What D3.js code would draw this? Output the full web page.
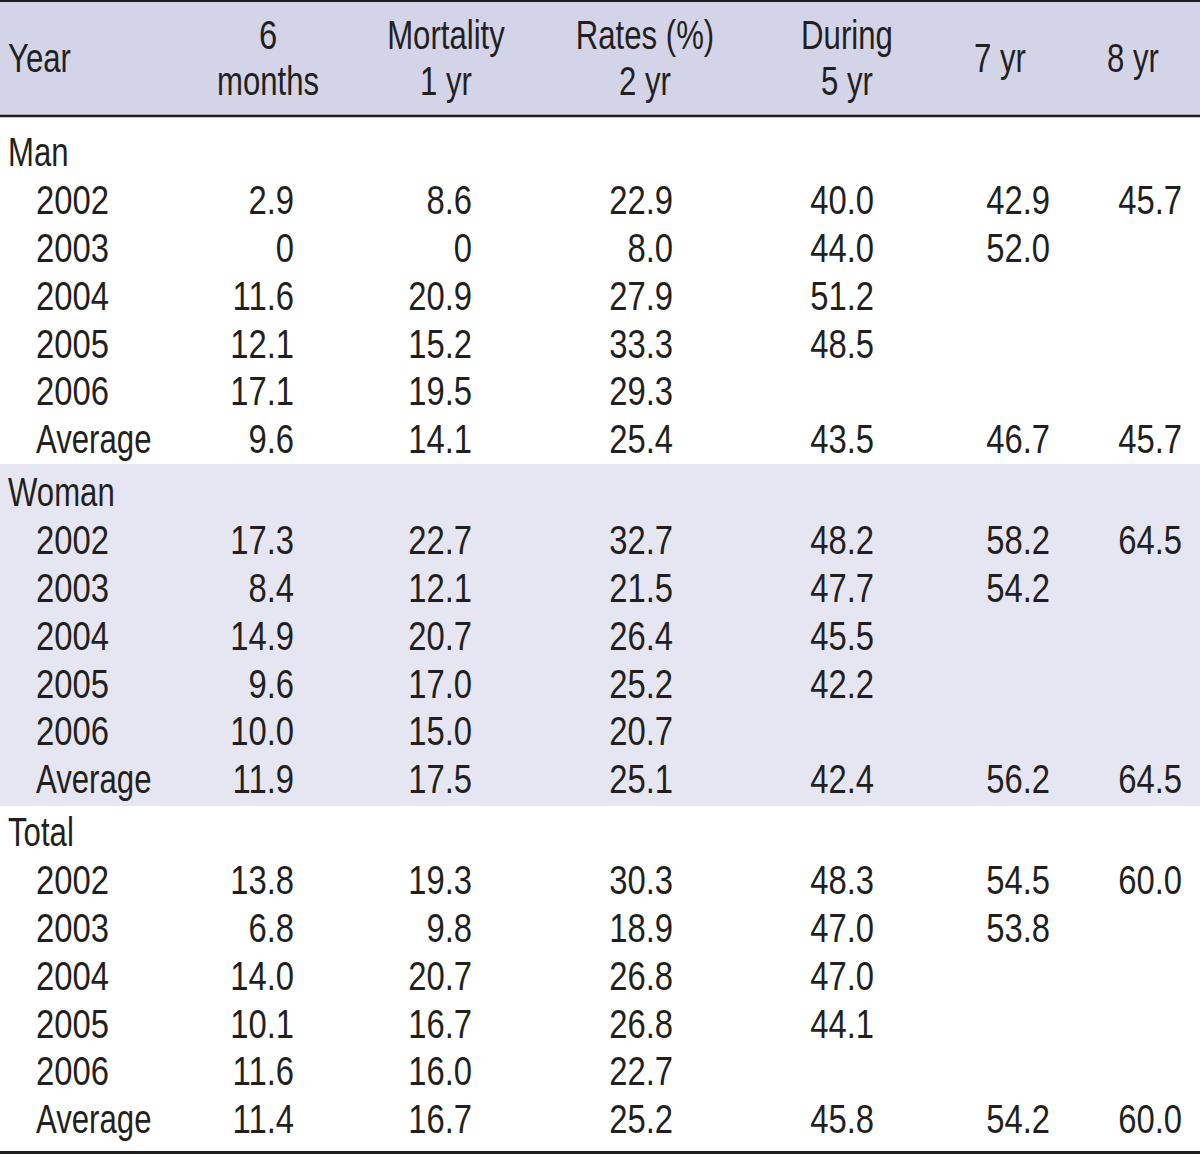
<!DOCTYPE html>
<html><head><meta charset="utf-8">
<script src="https://cdn.jsdelivr.net/npm/d3@7"></script>
<style>html,body{margin:0;padding:0;background:#fff;}</style>
</head><body>
<script>
const headerLine1 = ["", "6", "Mortality", "Rates (%)", "During", "", ""];
const headerLine2 = ["", "months", "1 yr", "2 yr", "5 yr", "", ""];
const headerSingle = ["Year", "", "", "", "", "7 yr", "8 yr"];
const groups = ["Man", "Woman", "Total"];
const rowLabels = ["2002", "2003", "2004", "2005", "2006", "Average"];
const manValues = [
  ["2.9","8.6","22.9","40.0","42.9","45.7"],
  ["0","0","8.0","44.0","52.0",""],
  ["11.6","20.9","27.9","51.2","",""],
  ["12.1","15.2","33.3","48.5","",""],
  ["17.1","19.5","29.3","","",""],
  ["9.6","14.1","25.4","43.5","46.7","45.7"]
];
const womanValues = [
  ["17.3","22.7","32.7","48.2","58.2","64.5"],
  ["8.4","12.1","21.5","47.7","54.2",""],
  ["14.9","20.7","26.4","45.5","",""],
  ["9.6","17.0","25.2","42.2","",""],
  ["10.0","15.0","20.7","","",""],
  ["11.9","17.5","25.1","42.4","56.2","64.5"]
];
const totalValues = [
  ["13.8","19.3","30.3","48.3","54.5","60.0"],
  ["6.8","9.8","18.9","47.0","53.8",""],
  ["14.0","20.7","26.8","47.0","",""],
  ["10.1","16.7","26.8","44.1","",""],
  ["11.6","16.0","22.7","","",""],
  ["11.4","16.7","25.2","45.8","54.2","60.0"]
];
const groupValues = [manValues, womanValues, totalValues];

const W = 1200, H = 1155;
const FONT = "'Liberation Sans',Arial,sans-serif";
const FS = 41;
const ink = "#231f20";

const svg = d3.select("body").append("svg").attr("width", W).attr("height", H)
  .style("font-family", FONT).style("font-size", FS + "px");

const colRight = [null, 294, 472, 673, 874, 1050, 1182];
const colCenter = [null, 268, 446, 645, 847, 1000, 1133];

const headerTop = 0, headerBottom = 116;
const sectionTops = [116, 464, 806];
const sectionBottoms = [464, 806, 1152];
const firstCenters = [152, 492, 832];
const pitch = 47.8;

svg.append("rect").attr("x", 0).attr("y", headerTop).attr("width", W).attr("height", headerBottom - headerTop).attr("fill", "#d4d4e8");
svg.append("rect").attr("x", 0).attr("y", sectionTops[1]).attr("width", W).attr("height", sectionBottoms[1] - sectionTops[1]).attr("fill", "#e6e6f2");

svg.append("line").attr("x1", 0).attr("x2", W).attr("y1", 1).attr("y2", 1).attr("stroke", ink).attr("stroke-width", 2);
svg.append("line").attr("x1", 0).attr("x2", W).attr("y1", headerBottom).attr("y2", headerBottom).attr("stroke", ink).attr("stroke-width", 2.5);
svg.append("line").attr("x1", 0).attr("x2", W).attr("y1", 1152.5).attr("y2", 1152.5).attr("stroke", ink).attr("stroke-width", 3);

const txt = (x, y, s, anchor) => {
  const sx = /^[0-9.]+$/.test(s) ? 0.8 : 0.76;
  return svg.append("text").attr("x", 0).attr("y", 0)
    .attr("transform", `translate(${x},${y}) scale(${sx},1)`)
    .attr("dominant-baseline", "central").attr("text-anchor", anchor).attr("fill", ink).text(s);
};

headerSingle.forEach((s, i) => {
  if (!s) return;
  if (i === 0) txt(8, 58, s, "start");
  else txt(colCenter[i], 58, s, "middle");
});
headerLine1.forEach((s, i) => { if (s) txt(colCenter[i], 35, s, "middle"); });
headerLine2.forEach((s, i) => { if (s) txt(colCenter[i], 81, s, "middle"); });

groups.forEach((g, gi) => {
  const y = d3.scaleLinear().domain([0, 1]).range([firstCenters[gi], firstCenters[gi] + pitch]);
  txt(8, y(0), g, "start");
  rowLabels.forEach((r, ri) => {
    txt(36, y(ri + 1), r, "start");
    groupValues[gi][ri].forEach((v, ci) => {
      if (v) txt(colRight[ci + 1], y(ri + 1), v, "end");
    });
  });
});
</script>
</body></html>
